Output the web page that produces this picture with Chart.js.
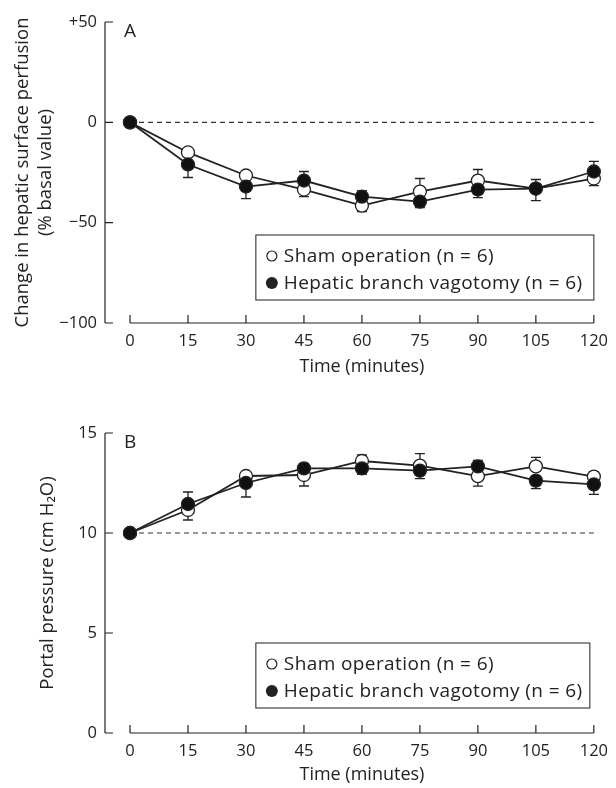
<!DOCTYPE html>
<html lang="en">
  <head>
    <meta charset="UTF-8" />
    <title>Hepatic perfusion and portal pressure</title>
    <script src="https://cdn.jsdelivr.net/npm/chart.js@4/dist/chart.umd.min.js"></script>
    <style>
      body { margin: 0; background: #fff; }
      .panel { position: relative; width: 616px; height: 394px; }
    </style>
  </head>
  <body>
    <div class="panel"><canvas id="chartA"></canvas></div>
    <div class="panel"><canvas id="chartB"></canvas></div>
    <script>
      // time points (minutes)
      const times = [0, 15, 30, 45, 60, 75, 90, 105, 120];

      // panel A: change in hepatic surface perfusion (% basal value)
      const shamA = [0, -15, -26.5, -33.5, -41.5, -34.5, -29, -33, -28];
      const shamAErr = [0, 0, 2, -3.5, -3, 6.5, 5.5, -6, -3.5];
      const vagA = [0, -21, -32, -29, -37, -39.5, -33.5, -33, -24.5];
      const vagAErr = [0, -6.5, -6, 4.5, 3, -3, -4, 4.5, 5];
      const baseA = 0;
      const yTicksA = { "50": "+50", "0": "0", "-50": "\u221250", "-100": "\u2212100" };

      // panel B: portal pressure (cm H2O)
      const shamB = [10, 11.15, 12.85, 12.9, 13.6, 13.37, 12.84, 13.33, 12.82];
      const shamBErr = [0, -0.5, 0.15, -0.55, 0.3, 0.6, -0.5, 0.45, 0.25];
      const vagB = [10, 11.45, 12.5, 13.23, 13.23, 13.12, 13.33, 12.62, 12.43];
      const vagBErr = [0, 0.6, -0.7, 0.25, -0.3, -0.4, 0.3, -0.4, -0.5];
      const baseB = 10;

      const legendLabels = ["Sham operation (n = 6)", "Hepatic branch vagotomy (n = 6)"];

      const FONT = "'Open Sans', Lato, sans-serif";
      const INK = "#222";

      function pts(vals) {
        return vals.map((v, i) => ({ x: times[i], y: v }));
      }

      // axes drawn like the journal figure: detached y axis, inward ticks
      const axesPlugin = {
        id: "axes",
        afterDraw(chart) {
          const ctx = chart.ctx;
          const xs = chart.scales.x;
          const ys = chart.scales.y;
          const area = chart.chartArea;
          const ax = area.left - 25;
          ctx.save();
          ctx.strokeStyle = INK;
          ctx.lineWidth = 1.2;
          ctx.beginPath();
          ctx.moveTo(ax, area.top);
          ctx.lineTo(ax, area.bottom);
          ys.ticks.forEach((t) => {
            const y = ys.getPixelForValue(t.value);
            ctx.moveTo(ax, y);
            ctx.lineTo(ax + 8, y);
          });
          ctx.moveTo(xs.getPixelForValue(xs.min), area.bottom);
          ctx.lineTo(xs.getPixelForValue(xs.max), area.bottom);
          xs.ticks.forEach((t) => {
            const x = xs.getPixelForValue(t.value);
            ctx.moveTo(x, area.bottom);
            ctx.lineTo(x, area.bottom - 8);
          });
          ctx.stroke();
          // panel letter
          ctx.fillStyle = INK;
          ctx.font = "19px " + FONT;
          ctx.textBaseline = "middle";
          ctx.fillText(chart.options.plugins.axes.letter, area.left - 6, area.top + 10);
          ctx.restore();
        },
      };

      const errorPlugin = {
        id: "errorBars",
        beforeDatasetsDraw(chart) {
          const ctx = chart.ctx;
          const ys = chart.scales.y;
          ctx.save();
          ctx.strokeStyle = INK;
          ctx.lineWidth = 1.3;
          chart.data.datasets.forEach((ds, di) => {
            if (!ds.errors) return;
            const meta = chart.getDatasetMeta(di);
            ds.errors.forEach((e, i) => {
              if (!e) return;
              const p = meta.data[i];
              const y2 = ys.getPixelForValue(ds.data[i].y + e);
              ctx.beginPath();
              ctx.moveTo(p.x, p.y);
              ctx.lineTo(p.x, y2);
              ctx.moveTo(p.x - 5, y2);
              ctx.lineTo(p.x + 5, y2);
              ctx.stroke();
            });
          });
          ctx.restore();
        },
      };

      const boxLegend = {
        id: "boxLegend",
        afterDraw(chart) {
          const o = chart.options.plugins.boxLegend;
          const area = chart.chartArea;
          const ctx = chart.ctx;
          const right = area.right - o.dx;
          const bottom = area.bottom - o.dy;
          const w = o.width, h = 65;
          const left = right - w, top = bottom - h;
          ctx.save();
          ctx.fillStyle = "#fff";
          ctx.fillRect(left, top, w, h);
          ctx.strokeStyle = "#444";
          ctx.lineWidth = 1.2;
          ctx.strokeRect(left, top, w, h);
          ctx.font = "19px " + FONT;
          ctx.letterSpacing = "0.4px";
          ctx.textBaseline = "middle";
          legendLabels.forEach((lab, i) => {
            const cy = top + 21 + i * 27;
            ctx.beginPath();
            ctx.arc(left + 16, cy, i === 0 ? 5 : 6, 0, Math.PI * 2);
            if (i === 0) {
              ctx.fillStyle = "#fff";
              ctx.fill();
              ctx.lineWidth = 1.2;
              ctx.strokeStyle = INK;
              ctx.stroke();
            } else {
              ctx.fillStyle = INK;
              ctx.fill();
            }
            ctx.fillStyle = INK;
            ctx.fillText(lab, left + 28, cy + 1);
          });
          ctx.restore();
        },
      };

      function makeChart(id, cfg) {
        const series = [
          { label: legendLabels[1], data: pts(cfg.vag), errors: cfg.vagErr, fill: "#111", order: 1 },
          { label: legendLabels[0], data: pts(cfg.sham), errors: cfg.shamErr, fill: "#fff", order: 2 },
        ];
        const datasets = series.map((s) => ({
          label: s.label,
          data: s.data,
          errors: s.errors,
          order: s.order,
          borderColor: INK,
          borderWidth: 1.8,
          pointRadius: 6.5,
          pointHoverRadius: 6.5,
          pointBackgroundColor: s.fill,
          pointBorderColor: INK,
          pointBorderWidth: 1.3,
          tension: 0,
          clip: false,
        }));
        datasets.push({
          label: "baseline",
          data: [{ x: 0, y: cfg.base }, { x: 120, y: cfg.base }],
          borderColor: cfg.dashColor,
          borderWidth: 1.3,
          borderDash: [5, 4],
          pointRadius: 0,
          order: 3,
          clip: false,
        });

        return new Chart(document.getElementById(id), {
          type: "line",
          data: { datasets },
          plugins: [errorPlugin, axesPlugin, boxLegend],
          options: {
            responsive: true,
            maintainAspectRatio: false,
            animation: false,
            events: [],
            layout: { padding: { top: cfg.padTop, right: 17, left: 0, bottom: 0 } },
            plugins: {
              legend: { display: false },
              tooltip: { enabled: false },
              axes: { letter: cfg.letter },
              boxLegend: cfg.legend,
            },
            scales: {
              x: {
                type: "linear",
                min: 0,
                max: 120,
                grid: { display: false, drawTicks: false },
                border: { display: false },
                ticks: { stepSize: 15, padding: 8, color: INK, font: { family: FONT, size: 16.5 } },
                title: {
                  display: true,
                  text: "Time (minutes)",
                  color: INK,
                  font: { family: FONT, size: 18, lineHeight: 1.22 },
                  padding: { top: 0, bottom: cfg.xTitlePad },
                },
                afterFit(scale) { scale.height = cfg.xHeight; },
              },
              y: {
                min: cfg.yMin,
                max: cfg.yMax,
                // invisible tick marks only push the labels off the detached axis
                grid: {
                  display: true,
                  drawOnChartArea: false,
                  drawTicks: true,
                  tickLength: 25,
                  color: "rgba(0,0,0,0)",
                },
                border: { display: false },
                ticks: {
                  stepSize: cfg.yStep,
                  padding: 8,
                  color: INK,
                  font: { family: FONT, size: 16.5 },
                  callback: cfg.yLabel,
                },
                title: {
                  display: true,
                  text: cfg.yTitle,
                  color: INK,
                  font: { family: FONT, size: 18.5, lineHeight: 1.2 },
                  padding: { top: cfg.yTitlePad, bottom: 0 },
                },
                afterFit(scale) { scale.width = 130; },
              },
            },
          },
        });
      }

      makeChart("chartA", {
        letter: "A",
        sham: shamA, shamErr: shamAErr, vag: vagA, vagErr: vagAErr,
        base: baseA, dashColor: "#333",
        yMin: -100, yMax: 50, yStep: 50,
        yLabel: (v) => yTicksA[String(v)],
        yTitle: ["Change in hepatic surface perfusion", "(% basal value)"],
        yTitlePad: 12,
        padTop: 22, xHeight: 71, xTitlePad: 16,
        legend: { dx: 0, dy: 23, width: 338 },
      });

      makeChart("chartB", {
        letter: "B",
        sham: shamB, shamErr: shamBErr, vag: vagB, vagErr: vagBErr,
        base: baseB, dashColor: "#777",
        yMin: 0, yMax: 15, yStep: 5,
        yLabel: (v) => String(v),
        yTitle: "Portal pressure (cm H\u2082O)",
        yTitlePad: 37,
        padTop: 39, xHeight: 55, xTitlePad: 2,
        legend: { dx: 4, dy: 25, width: 334 },
      });
    </script>
  </body>
</html>
